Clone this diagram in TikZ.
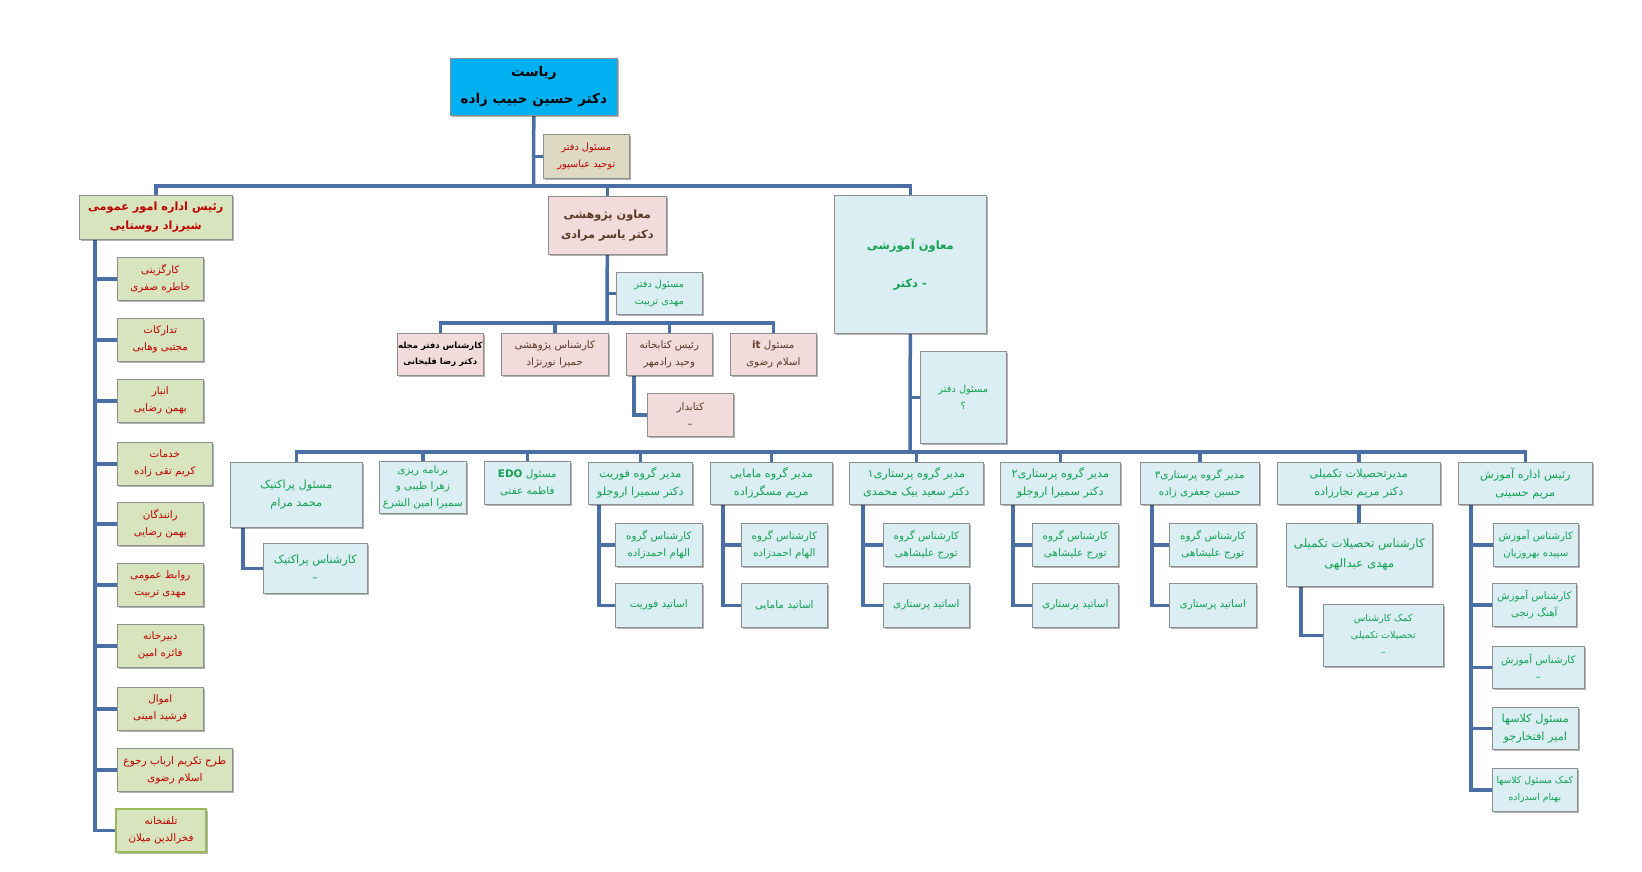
\documentclass[tikz,border=0pt]{standalone}
\usepackage{fontspec}
\newfontfamily\fa[Script=Arabic]{DejaVu Sans}
\TeXXeTstate=1
\usetikzlibrary{shadows}
\newcommand\rl[1]{\beginR #1\endR}
\definecolor{lineblue}{HTML}{4A6FA5}
\definecolor{boxgray}{HTML}{8E8E8E}
\definecolor{cyanfill}{HTML}{00B0F0}
\definecolor{tanfill}{HTML}{DDD9C3}
\definecolor{greenfill}{HTML}{D7E4BD}
\definecolor{pinkfill}{HTML}{F2DCDB}
\definecolor{bluefill}{HTML}{DBEEF4}
\definecolor{redtext}{HTML}{C00000}
\definecolor{browntext}{HTML}{5B3A29}
\definecolor{greentext}{HTML}{12A150}
\definecolor{telborder}{HTML}{9BBB59}
\pgfdeclarelayer{bg}
\pgfsetlayers{bg,main}
\tikzset{
  box/.style={draw=boxgray, line width=0.6pt, align=center, inner sep=0pt, anchor=north west,
    drop shadow={shadow xshift=1.5pt, shadow yshift=-1.5pt, fill=black, opacity=0.3}},
  wh/.style 2 args={minimum width=#1pt, minimum height=#2pt},
  gbox/.style={box, fill=greenfill, text=redtext, font=\fa\fontsize{10.3}{17}\selectfont},
  pbox/.style={box, fill=pinkfill, text=browntext, font=\fa\fontsize{10.3}{17}\selectfont},
  bbox/.style={box, fill=bluefill, text=greentext, font=\fa\fontsize{10.4}{17}\selectfont},
  hbox/.style={bbox, font=\fa\fontsize{11.3}{18}\selectfont},
  cbox/.style={bbox, font=\fa\fontsize{10.2}{17}\selectfont},
  conn/.style={draw=lineblue, line width=3.5pt},
}
\begin{document}
\begin{tikzpicture}[x=1pt, y=-1pt]
\useasboundingbox (0,0) rectangle (1642,871);

% top
\node[box, fill=cyanfill, wh={167}{57}, font=\fa\bfseries\fontsize{13.5}{27}\selectfont] (ri) at (450,58) {\rl{ریاست}\\\rl{دکتر حسین حبیب زاده}};
\node[box, fill=tanfill, text=redtext, wh={86}{44}, font=\fa\fontsize{9.8}{17}\selectfont] (td) at (543,134) {\rl{مسئول دفتر}\\\rl{توحید عباسپور}};

% general affairs
\node[gbox, wh={153}{44}, font=\fa\bfseries\fontsize{11.3}{19}\selectfont] (om) at (79,195) {\rl{رئیس اداره امور عمومی}\\\rl{شیرزاد روستایی}};
\node[gbox, wh={86}{43}] (g1) at (117,257) {\rl{کارگزینی}\\\rl{خاطره صفری}};
\node[gbox, wh={86}{43}] (g2) at (117,318) {\rl{تدارکات}\\\rl{مجتبی وهابی}};
\node[gbox, wh={86}{43}] (g3) at (117,379) {\rl{انبار}\\\rl{بهمن رضایی}};
\node[gbox, wh={95}{43}] (g4) at (117,442) {\rl{خدمات}\\\rl{کریم تقی زاده}};
\node[gbox, wh={86}{43}] (g5) at (117,502) {\rl{رانندگان}\\\rl{بهمن رضایی}};
\node[gbox, wh={86}{43}] (g6) at (117,563) {\rl{روابط عمومی}\\\rl{مهدی تربیت}};
\node[gbox, wh={86}{43}] (g7) at (117,624) {\rl{دبیرخانه}\\\rl{فائزه امین}};
\node[gbox, wh={86}{43}] (g8) at (117,687) {\rl{اموال}\\\rl{فرشید امینی}};
\node[gbox, wh={115}{43}, font=\fa\fontsize{10.5}{17}\selectfont] (g9) at (117,748) {\rl{طرح تکریم ارباب رجوع}\\\rl{اسلام رضوی}};
\node[gbox, wh={90}{43}, draw=telborder, line width=2pt] (g10) at (115,808) {\rl{تلفنخانه}\\\rl{فخرالدین میلان}};

% research
\node[pbox, wh={118}{58}, font=\fa\bfseries\fontsize{11.3}{20}\selectfont] (pj) at (548,196) {\rl{معاون پژوهشی}\\\rl{دکتر یاسر مرادی}};
\node[bbox, wh={86}{42}, font=\fa\fontsize{9.8}{17}\selectfont] (pjd) at (616,272) {\rl{مسئول دفتر}\\\rl{مهدی تربیت}};
\node[pbox, wh={86}{42}, text=black, font=\fa\bfseries\fontsize{8.5}{16}\selectfont] (p1) at (397,333) {\rl{کارشناس دفتر مجله}\\\rl{دکتر رضا قلیخانی}};
\node[pbox, wh={107}{42}] (p2) at (501,333) {\rl{کارشناس پژوهشی}\\\rl{حمیرا نورنژاد}};
\node[pbox, wh={86}{42}] (p3) at (626,333) {\rl{رئیس کتابخانه}\\\rl{وحید رادمهر}};
\node[pbox, wh={86}{42}] (p4) at (730,333) {\rl{مسئول \beginL\textbf{it}\endL}\\\rl{اسلام رضوی}};
\node[pbox, wh={86}{43}] (p5) at (647,393) {\rl{کتابدار}\\–};

% education
\node[bbox, wh={152}{138}, font=\fa\bfseries\fontsize{11.5}{38}\selectfont] (am) at (834,195) {\rl{معاون آموزشی}\\\hbox{\rl{دکتر}}\hspace{4pt}\hbox{-}};
\node[bbox, wh={86}{92}, font=\fa\fontsize{9.8}{17}\selectfont] (amd) at (920,351) {\rl{مسئول دفتر}\\\rl{؟}};

\node[hbox, wh={132}{65}] (a1) at (230,462) {\rl{مسئول پراکتیک}\\\rl{محمد مرام}};
\node[bbox, wh={87}{52}, font=\fa\fontsize{10.4}{16.5}\selectfont] (a2) at (379,461) {\rl{برنامه ریزی}\\\rl{زهرا طیبی و}\\\rl{سمیرا امین الشرع}};
\node[bbox, wh={86}{43}] (a3) at (484,461) {\rl{مسئول \beginL\textbf{EDO}\endL}\\\rl{فاطمه عفتی}};
\node[hbox, wh={104}{42}] (a4) at (588,462) {\rl{مدیر گروه فوریت}\\\rl{دکتر سمیرا اروجلو}};
\node[hbox, wh={122}{42}] (a5) at (710,462) {\rl{مدیر گروه مامایی}\\\rl{مریم مسگرزاده}};
\node[hbox, wh={134}{42}] (a6) at (849,462) {\rl{مدیر گروه پرستاری۱}\\\rl{دکتر سعید بیک محمدی}};
\node[hbox, wh={120}{42}] (a7) at (1000,462) {\rl{مدیر گروه پرستاری۲}\\\rl{دکتر سمیرا اروجلو}};
\node[bbox, wh={119}{42}] (a8) at (1140,462) {\rl{مدیر گروه پرستاری۳}\\\rl{حسین جعفری زاده}};
\node[hbox, wh={163}{42}] (a9) at (1277,462) {\rl{مدیرتحصیلات تکمیلی}\\\rl{دکتر مریم نجارزاده}};
\node[hbox, wh={134}{42}] (a10) at (1458,462) {\rl{رئیس اداره آموزش}\\\rl{مریم حسینی}};

\node[hbox, wh={104}{50}] (a1c) at (263,543) {\rl{کارشناس پراکتیک}\\–};
\node[bbox, wh={87}{43}] (a4a) at (615,523) {\rl{کارشناس گروه}\\\rl{الهام احمدزاده}};
\node[bbox, wh={87}{44}] (a4b) at (615,583) {\rl{اساتید فوریت}};
\node[bbox, wh={86}{43}] (a5a) at (741,523) {\rl{کارشناس گروه}\\\rl{الهام احمدزاده}};
\node[bbox, wh={86}{44}] (a5b) at (741,583) {\rl{اساتید مامایی}};
\node[bbox, wh={86}{43}] (a6a) at (883,523) {\rl{کارشناس گروه}\\\rl{تورج علیشاهی}};
\node[bbox, wh={86}{44}] (a6b) at (883,583) {\rl{اساتید پرستاری}};
\node[bbox, wh={86}{43}] (a7a) at (1032,523) {\rl{کارشناس گروه}\\\rl{تورج علیشاهی}};
\node[bbox, wh={86}{44}] (a7b) at (1032,583) {\rl{اساتید پرستاری}};
\node[bbox, wh={87}{43}] (a8a) at (1169,523) {\rl{کارشناس گروه}\\\rl{تورج علیشاهی}};
\node[bbox, wh={87}{44}] (a8b) at (1169,583) {\rl{اساتید پرستاری}};
\node[bbox, wh={146}{63}, font=\fa\fontsize{11.8}{20}\selectfont] (a9a) at (1286,523) {\rl{کارشناس تحصیلات تکمیلی}\\\rl{مهدی عبدالهی}};
\node[bbox, wh={120}{62}, font=\fa\fontsize{9.5}{17}\selectfont] (a9b) at (1323,604) {\rl{کمک کارشناس}\\\rl{تحصیلات تکمیلی}\\–};
\node[cbox, wh={85}{43}] (c1) at (1493,523) {\rl{کارشناس آموزش}\\\rl{سپیده بهروزیان}};
\node[cbox, wh={84}{43}] (c2) at (1492,583) {\rl{کارشناس آموزش}\\\rl{آهنگ رنجی}};
\node[cbox, wh={92}{42}] (c3) at (1492,646) {\rl{کارشناس آموزش}\\–};
\node[hbox, wh={86}{42}] (c4) at (1492,707) {\rl{مسئول کلاسها}\\\rl{امیر افتخارجو}};
\node[bbox, wh={85}{43}, font=\fa\fontsize{9.3}{17}\selectfont] (c5) at (1492,768) {\rl{کمک مسئول کلاسها}\\\rl{بهنام اسدزاده}};

\begin{pgfonlayer}{bg}
\fill[white] (0,0) rectangle (1642,871);
\coordinate (busA) at (533.5,186);
\draw[conn] (ri.south) -- (busA);
\draw[conn] (om.north) |- (busA) -| (am.north);
\draw[conn] (pj.north) -- (pj.north |- busA);
\draw[conn] (ri.south |- td.west) -- (td.west);
% general
\coordinate (omv) at ([xshift=16pt]om.south west);
\draw[conn] (omv) |- (g10.west);
\foreach \g in {g1,g2,g3,g4,g5,g6,g7,g8,g9} {\draw[conn] (\g.west) -- (omv |- \g.west);}
% research
\coordinate (busB) at (607,323);
\draw[conn] (pj.south) -- (busB);
\draw[conn] (p1.north) |- (busB) -| (p4.north);
\draw[conn] (p2.north) -- (p2.north |- busB);
\draw[conn] (p3.north) -- (p3.north |- busB);
\draw[conn] (pj.south |- pjd.west) -- (pjd.west);
\draw[conn] ([xshift=8pt]p3.south west) |- (p5.west);
% education
\coordinate (busC) at (910,452);
\draw[conn] (am.south) -- (busC);
\draw[conn] (a1.north) |- (busC) -| (a10.north);
\foreach \a in {a2,a3,a4,a5,a6,a7,a8,a9} {\draw[conn] (\a.north) -- (\a.north |- busC);}
\draw[conn] (am.south |- amd.west) -- (amd.west);
\draw[conn] ([xshift=13pt]a1.south west) |- (a1c.west);
\draw[conn] ([xshift=11pt]a4.south west) |- (a4b.west);
\draw[conn] ([xshift=11pt]a4.south west |- a4a.west) -- (a4a.west);
\draw[conn] ([xshift=13pt]a5.south west) |- (a5b.west);
\draw[conn] ([xshift=13pt]a5.south west |- a5a.west) -- (a5a.west);
\draw[conn] ([xshift=14pt]a6.south west) |- (a6b.west);
\draw[conn] ([xshift=14pt]a6.south west |- a6a.west) -- (a6a.west);
\draw[conn] ([xshift=13pt]a7.south west) |- (a7b.west);
\draw[conn] ([xshift=13pt]a7.south west |- a7a.west) -- (a7a.west);
\draw[conn] ([xshift=12pt]a8.south west) |- (a8b.west);
\draw[conn] ([xshift=12pt]a8.south west |- a8a.west) -- (a8a.west);
\draw[conn] (a9.south) -- (a9.south |- a9a.north);
\draw[conn] ([xshift=15pt]a9a.south west) |- (a9b.west);
\coordinate (a10v) at ([xshift=13pt]a10.south west);
\draw[conn] (a10v) |- (c5.west);
\foreach \c in {c1,c2,c3,c4} {\draw[conn] (\c.west) -- (a10v |- \c.west);}
\end{pgfonlayer}
\end{tikzpicture}
\end{document}
